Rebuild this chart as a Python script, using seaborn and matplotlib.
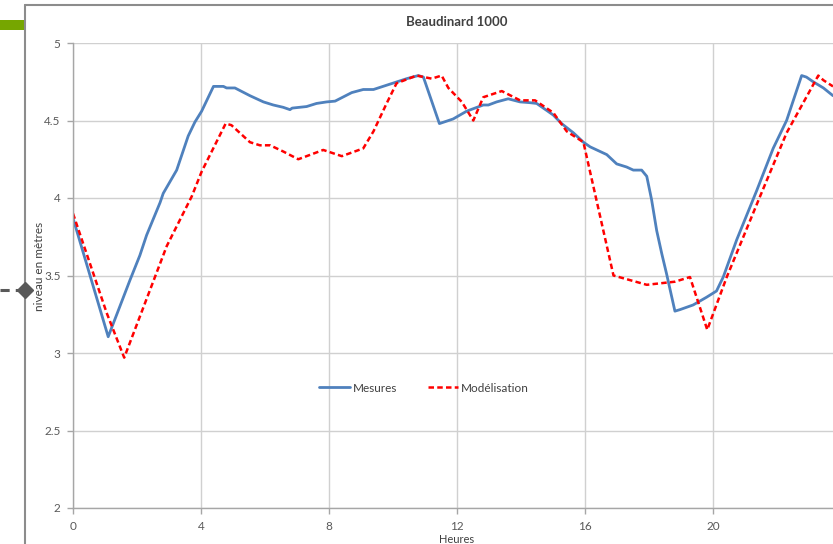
import matplotlib
matplotlib.use("Agg")
import matplotlib.pyplot as plt
import seaborn as sns
import pandas as pd
from matplotlib.lines import Line2D
from matplotlib.patches import Rectangle

# ---- data ----
title = "Beaudinard 1000"
x_label = "Heures"
y_label = "niveau en mètres"
series_names = ["Mesures", "Modélisation"]

mes_h = [0, 1.10, 1.78, 2.09, 2.30, 2.72, 2.82, 3.24, 3.60, 3.81, 4.02, 4.39, 4.70, 4.80,
         5.06, 5.53, 5.95, 6.26, 6.57, 6.78, 6.85, 7.30, 7.61, 7.93, 8.19, 8.71, 9.07, 9.39,
         9.91, 10.43, 10.79, 10.95, 11.45, 11.88, 12.30, 12.82, 12.98, 13.24, 13.60, 13.97,
         14.28, 14.49, 15.01, 15.27, 15.64, 15.95, 16.16, 16.68, 16.99, 17.30, 17.51, 17.77,
         17.93, 18.08, 18.24, 18.40, 18.55, 18.81, 18.97, 19.38, 19.80, 20.11, 20.32, 20.74,
         21.37, 21.88, 22.30, 22.77, 22.92, 23.13, 23.45, 23.75]
mes_v = [3.87, 3.105, 3.47, 3.63, 3.76, 3.97, 4.03, 4.18, 4.40, 4.49, 4.56, 4.72, 4.72, 4.71,
         4.71, 4.66, 4.62, 4.60, 4.585, 4.57, 4.58, 4.59, 4.61, 4.62, 4.625, 4.68, 4.70, 4.70,
         4.735, 4.77, 4.79, 4.78, 4.48, 4.51, 4.56, 4.60, 4.60, 4.62, 4.64, 4.62,
         4.615, 4.61, 4.535, 4.48, 4.42, 4.36, 4.33, 4.28, 4.22, 4.20, 4.18, 4.18,
         4.14, 3.99, 3.79, 3.64, 3.51, 3.27, 3.28, 3.31, 3.36, 3.40, 3.49, 3.73,
         4.05, 4.32, 4.50, 4.79, 4.78, 4.75, 4.71, 4.66]

mod_h = [0, 1.05, 1.60, 2.93, 3.71, 4.02, 4.77, 4.95, 5.53, 5.84, 6.16, 6.57, 7.04, 7.82,
         8.40, 9.07, 9.39, 9.80, 10.11, 10.74, 11.21, 11.52, 11.73, 12.15, 12.51, 12.82,
         13.40, 13.97, 14.44, 15.01, 15.43, 15.95, 16.89, 17.93, 18.81, 19.28, 19.82, 20.43,
         21.47, 22.30, 23.29, 23.45, 23.75]
mod_v = [3.90, 3.26, 2.97, 3.69, 4.01, 4.17, 4.48, 4.47, 4.36, 4.34, 4.34, 4.30, 4.25, 4.31,
         4.27, 4.32, 4.43, 4.61, 4.74, 4.79, 4.77, 4.79, 4.71, 4.62, 4.50, 4.65,
         4.69, 4.63, 4.63, 4.55, 4.43, 4.36, 3.50, 3.44, 3.46, 3.49, 3.15, 3.49,
         4.01, 4.42, 4.79, 4.76, 4.72]

x_ticks = [0, 4, 8, 12, 16, 20, 24]
y_ticks = [2, 2.5, 3, 3.5, 4, 4.5, 5]

# ---- style ----
sns.set_theme(style="white")
plt.rcParams["font.family"] = ["Lato", "DejaVu Sans"]

W, H = 833, 544
fig = plt.figure(figsize=(W / 100, H / 100), dpi=100)
fig.patch.set_facecolor("white")

def fx(px):
    return px / W

def fy(py):
    return 1 - py / H

ax_left, ax_right, ax_top, ax_bot = 73, 841, 43, 508
ax = fig.add_axes([fx(ax_left), fy(ax_bot), (ax_right - ax_left) / W, (ax_bot - ax_top) / H])

df_mes = pd.DataFrame({"h": mes_h, "v": mes_v})
df_mod = pd.DataFrame({"h": mod_h, "v": mod_v})

sns.lineplot(data=df_mes, x="h", y="v", ax=ax, color="#4F81BD", linewidth=2.0,
             sort=False, estimator=None, label=series_names[0])
sns.lineplot(data=df_mod, x="h", y="v", ax=ax, color="#FF0000", linewidth=1.8,
             linestyle=(0, (2.2, 1.3)), sort=False, estimator=None, label=series_names[1])

ax.set_xlim(0, 24)
ax.set_ylim(2, 5)
ax.set_xticks(x_ticks)
ax.set_yticks(y_ticks)
ax.set_xticklabels([str(t) for t in x_ticks])
ax.set_yticklabels([("%g" % t) for t in y_ticks])
ax.grid(True, color="#D0D0D0", linewidth=1.0)
ax.set_axisbelow(True)
for s in ["top", "right"]:
    ax.spines[s].set_visible(False)
for s in ["left", "bottom"]:
    ax.spines[s].set_color("#A6A6A6")
    ax.spines[s].set_linewidth(1.0)
ax.tick_params(axis="both", colors="#595959", labelsize=8.5, length=4, width=1,
               direction="out", bottom=True, left=True)
ax.tick_params(axis="both", color="#A6A6A6")
ax.tick_params(axis="y", pad=5)
ax.tick_params(axis="x", pad=5)

ax.set_xlabel(x_label, fontsize=8, color="#404040")
ax.xaxis.set_label_coords(0.5, -0.055)
ax.set_ylabel(y_label, fontsize=8.5, color="#404040")
ax.yaxis.set_label_coords(-0.037, 0.52)
ax.set_title(title, fontsize=9.5, fontweight="bold", color="#404040", pad=12)

leg = ax.legend(loc="center", bbox_to_anchor=(0.457, 0.258), ncol=2, frameon=False,
                fontsize=8.5, handlelength=2.6, columnspacing=2.6, handletextpad=0.25)
for t in leg.get_texts():
    t.set_color("#404040")

# ---- surrounding decorations ----
fig.add_artist(Line2D([fx(25), fx(25)], [fy(5), fy(544)], transform=fig.transFigure,
                      color="#8C8C8C", linewidth=1.5))
fig.add_artist(Line2D([fx(25), fx(833)], [fy(5), fy(5)], transform=fig.transFigure,
                      color="#8C8C8C", linewidth=1.5))
fig.add_artist(Rectangle((0, fy(29.5)), fx(24.5), (29.5 - 20.5) / H, transform=fig.transFigure,
                         facecolor="#76A600", edgecolor="none"))
fig.add_artist(Line2D([0, fx(22)], [fy(290), fy(290)], transform=fig.transFigure,
                      color="#595959", linewidth=2.2, linestyle=(0, (3, 2))))
fig.add_artist(Line2D([fx(25)], [fy(290)], transform=fig.transFigure, marker="D",
                      markersize=8.5, color="#595959", linestyle="none"))

fig.savefig("out.png", dpi=100)
